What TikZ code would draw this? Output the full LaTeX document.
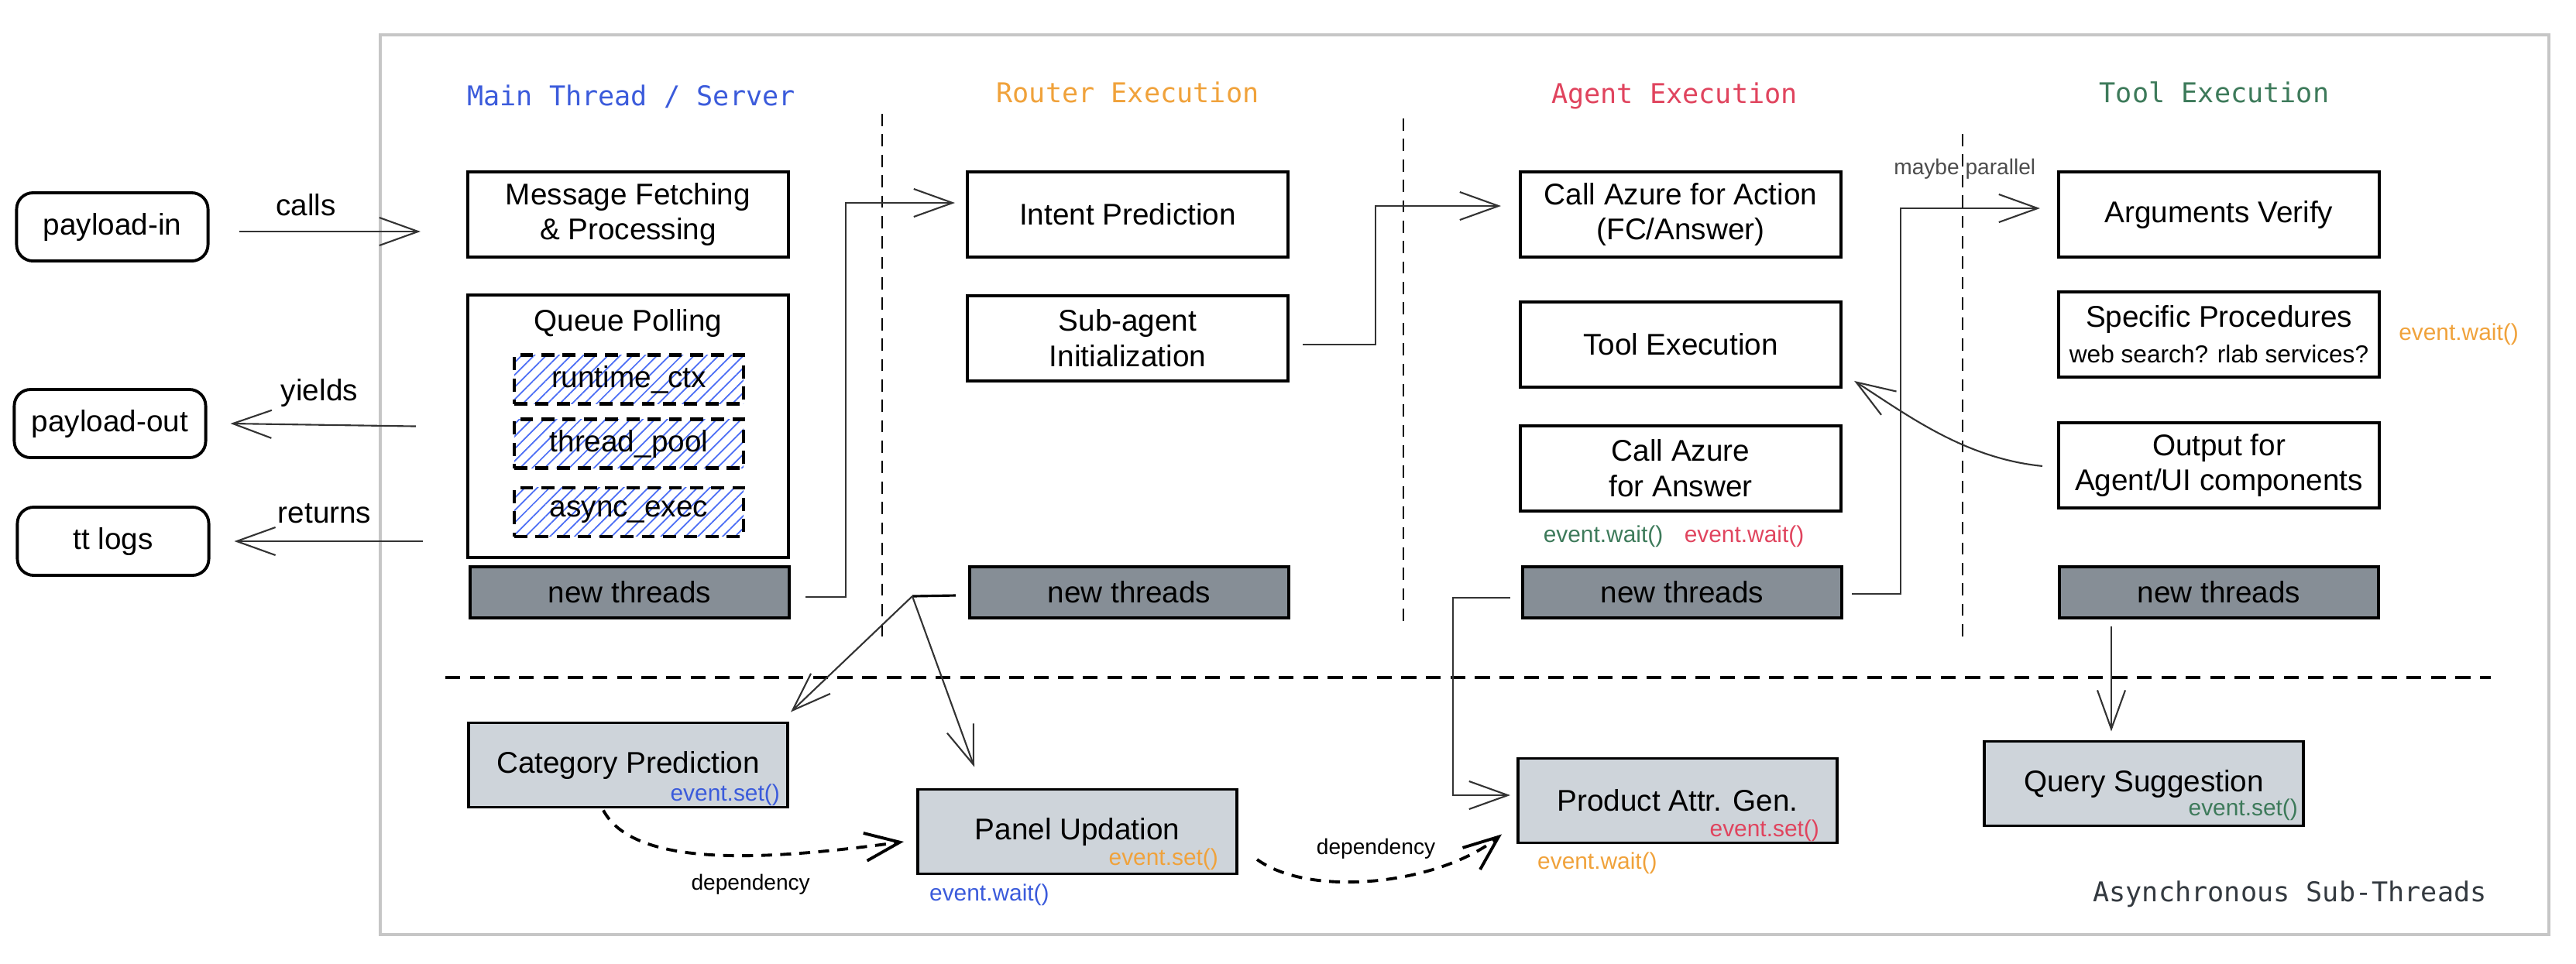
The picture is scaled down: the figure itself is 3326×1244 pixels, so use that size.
\documentclass[tikz,border=0pt]{standalone}
\usepackage{fontspec}
\setmainfont{Liberation Sans}
\setmonofont{DejaVu Sans Mono}
\usepackage{xcolor}
\usepackage{tikz}
\usetikzlibrary{arrows.meta, positioning, calc, patterns.meta}

\definecolor{mainblue}{HTML}{3B5BDB}
\definecolor{routerorange}{HTML}{F0A23B}
\definecolor{agentred}{HTML}{E0445E}
\definecolor{toolgreen}{HTML}{3D7A5A}
\definecolor{hatchblue}{HTML}{4C6EF5}
\definecolor{threadgray}{HTML}{868E96}
\definecolor{subgray}{HTML}{CED4DA}
\definecolor{asyncgray}{HTML}{343A40}

\begin{document}
\begin{tikzpicture}[
    x=0.01cm, y=-0.01cm,
    node distance=0.46cm,
    box/.style={rectangle, draw=black, line width=1.1pt, fill=white, minimum height=1.1cm, minimum width=4.14cm, align=center, font=\fontsize{11}{13}\selectfont},
    threadbox/.style={box, fill=threadgray, minimum height=0.66cm, minimum width=4.12cm},
    subbox/.style={box, fill=subgray, minimum height=1.09cm, minimum width=4.12cm},
    iobox/.style={rectangle, rounded corners=6pt, draw=black, line width=1.1pt, minimum height=0.88cm, minimum width=2.47cm, font=\fontsize{11}{13}\selectfont},
    hatchbox/.style={rectangle, draw=black, line width=1.2pt, dash pattern=on 4.8pt off 3pt, pattern={Lines[angle=45,distance=3.2pt,line width=0.5pt]}, pattern color=hatchblue, minimum height=0.63cm, minimum width=2.96cm, font=\fontsize{11}{13}\selectfont},
    header/.style={font=\ttfamily\fontsize{10}{12}\selectfont},
    lbl/.style={font=\fontsize{11}{13}\selectfont},
    deplbl/.style={font=\fontsize{8}{10}\selectfont},
    evt/.style={font=\fontsize{8.5}{10}\selectfont, inner sep=1pt},
    arrow/.style={-{Straight Barb[length=5mm,width=3.6mm]}, line width=0.6pt, draw=black!80},
    deparrow/.style={-{Straight Barb[length=4.5mm,width=3.6mm]}, line width=1.1pt, dash pattern=on 4pt off 3pt, draw=black},
    colsep/.style={line width=0.7pt, dash pattern=on 4.5pt off 3pt},
    rowsep/.style={line width=1pt, dash pattern=on 5.5pt off 3.5pt}
]
\useasboundingbox (0,0) rectangle (3326,1244);

% Outer frame
\draw[gray!45, line width=1pt] (491,45) rectangle (3291,1207);

% Column headers
\node[header, text=mainblue] (hdr_main) at (815,125) {Main Thread / Server};
\node[header, text=routerorange] (hdr_router) at (1456,119) {Router Execution};
\node[header, text=agentred] (hdr_agent) at (2162,124) {Agent Execution};
\node[header, text=toolgreen] (hdr_tool) at (2859,119) {Tool Execution};

% Column separators
\draw[colsep] (1139,147) -- (1139,822);
\draw[colsep] (1812,153) -- (1812,812);
\draw[colsep] (2534,173) -- (2534,824);
\draw[rowsep] (575,875) -- (3216,875);

% Callers (left)
\node[iobox] (payload_in) at (145,293) {payload-in};
\node[iobox] (payload_out) at (142,547) {payload-out};
\node[iobox] (tt_logs) at (146,699) {tt logs};

% Main thread / server
\node[box] (msg_fetch) at (811,277) {Message Fetching\\\& Processing};
\node[box, below=0.45cm of msg_fetch, minimum height=3.39cm] (queue_poll) {};
\node[lbl, below=0.08cm of queue_poll.north] (qp_title) {Queue Polling};
\node[hatchbox] (runtime_ctx) at (812,490) {runtime\_ctx};
\node[hatchbox, below=0.17cm of runtime_ctx] (thread_pool) {thread\_pool};
\node[hatchbox, below=0.21cm of thread_pool] (async_exec) {async\_exec};
\node[threadbox] (main_threads) at (813,765) {new threads};

% Router execution
\node[box] (intent_pred) at (1456,277) {Intent Prediction};
\node[box, below=0.46cm of intent_pred] (subagent_init) {Sub-agent\\Initialization};
\node[threadbox] (router_threads) at (1458,765) {new threads};

% Agent execution
\node[box] (call_action) at (2170,277) {Call Azure for Action\\(FC/Answer)};
\node[box, below=0.54cm of call_action] (tool_exec) {Tool Execution};
\node[box, below=0.46cm of tool_exec] (call_answer) {Call Azure\\for Answer};
\node[evt, text=toolgreen] (answer_wait_tool) at ($(call_answer.south)+(-100,31)$) {event.wait()};
\node[evt, text=agentred] (answer_wait_agent) at ($(call_answer.south)+(82,31)$) {event.wait()};
\node[threadbox] (agent_threads) at (2172,765) {new threads};

% Tool execution
\node[box] (args_verify) at (2865,277) {Arguments Verify};
\node[box, below=0.41cm of args_verify] (spec_proc) {Specific Procedures\\{\fontsize{9}{11}\selectfont web search? rlab services?}};
\node[evt, text=routerorange, right=0.19cm of spec_proc] (spec_wait) {event.wait()};
\node[box, below=0.55cm of spec_proc] (output_ui) {Output for\\Agent/UI components};
\node[threadbox] (tool_threads) at (2865,765) {new threads};

% Asynchronous sub-threads (bottom)
\node[subbox] (cat_pred) at (811,988) {Category Prediction};
\node[subbox] (panel_upd) at (1391,1074) {Panel Updation};
\node[subbox] (prod_attr) at (2166,1034) {Product Attr. Gen.};
\node[subbox] (query_sugg) at (2768,1012) {Query Suggestion};
\node[evt, text=mainblue, anchor=east] (cat_set) at ($(cat_pred.south east)+(-8,-18)$) {event.set()};
\node[evt, text=routerorange, anchor=east] (panel_set) at ($(panel_upd.south east)+(-22,-21)$) {event.set()};
\node[evt, text=mainblue, anchor=west] (panel_wait) at ($(panel_upd.south west)+(13,25)$) {event.wait()};
\node[evt, text=agentred, anchor=east] (prod_set) at ($(prod_attr.south east)+(-21,-18)$) {event.set()};
\node[evt, text=routerorange, anchor=west] (prod_wait) at ($(prod_attr.south west)+(23,24)$) {event.wait()};
\node[evt, text=toolgreen, anchor=east] (query_set) at ($(query_sugg.south east)+(-5,-23)$) {event.set()};
\node[header, text=asyncgray, anchor=east] (async_lbl) at (3223,1155) {Asynchronous Sub-Threads};

% Calls in and out of the server
\draw[arrow] ($(payload_in.east)+(38,6)$) -- node[lbl, pos=0.37, above=2pt] {calls} ($(msg_fetch.west)+(-59,22)$);
\draw[arrow] ($(queue_poll.west)+(-65,0)$) -- node[lbl, pos=0.52, above=3pt] {yields} ($(payload_out.east)+(30,0)$);
\draw[arrow] ($(tt_logs.east)+(274,0)$) -- node[lbl, pos=0.52, above=3pt] {returns} ($(tt_logs.east)+(31,0)$);

% Thread hand-offs between columns
\draw[arrow] ($(main_threads.east)+(19,6)$) -- ++(52,0) |- ($(intent_pred.west)+(-14,-15)$);
\draw[arrow] ($(subagent_init.east)+(17,8)$) -- ++(94,0) |- ($(call_action.west)+(-23,-11)$);
\draw[arrow] ($(agent_threads.east)+(11,2)$) -- ++(63,0) |- node[pos=0.73, above=7pt, font=\fontsize{8}{10}\selectfont, text=black!70] {maybe parallel} ($(args_verify.west)+(-22,-8)$);
\draw[arrow] ($(output_ui.west)+(-19,1)$) .. controls +(-100,-10) and +(70,45) .. ($(tool_exec.south east)+(15,-10)$);

% Router spawns side threads (split at one point)
\coordinate (rt_split) at ($(router_threads.west)+(-72,5)$);
\draw[line width=0.9pt] ($(router_threads.west)+(-16,4)$) -- (rt_split);
\draw[arrow] (rt_split) -- ($(cat_pred.north east)+(2,-12)$);
\draw[arrow] (rt_split) -- ($(panel_upd.north)+(-133,-27)$);

% Agent and tool side threads
\draw[arrow] ($(agent_threads.west)+(-14,7)$) -- ++(-74,0) |- ($(prod_attr.west)+(-8,-7)$);
\draw[arrow] ($(tool_threads.south)+(-139,9)$) -- ($(query_sugg.north)+(-42,-11)$);

% Dependencies between sub-threads
\draw[deparrow] ($(cat_pred.south)+(-32,2)$) .. controls +(41,77) and +(-169,23) .. ($(panel_upd.west)+(-16,13)$) node[deplbl, pos=0.6, below=3pt] {dependency};
\draw[deparrow] ($(panel_upd.east)+(24,36)$) .. controls +(69,50) and +(-81,65) .. ($(prod_attr.south west)+(-19,-13)$) node[deplbl, pos=0.5, above=4pt] {dependency};

\end{tikzpicture}
\end{document}
